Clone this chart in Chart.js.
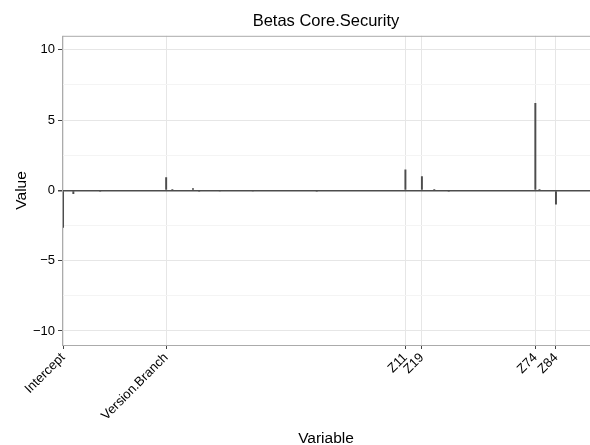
<!DOCTYPE html>
<html>
<head>
<meta charset="utf-8">
<script src="https://cdn.jsdelivr.net/npm/chart.js@4/dist/chart.umd.min.js"></script>
<style>
  html, body { margin: 0; padding: 0; background: #fff; }
  #wrap { width: 590px; height: 445px; }
</style>
</head>
<body>
<div id="wrap"><canvas id="betaChart"></canvas></div>
<script>
// variable order: Intercept, 155 other covariates (Version.Branch among them), then Z1..Z100
const otherCount = 156;
const zCount = 100;

// non-zero coefficients; every other variable is 0
const betaNames = ['Intercept', 'Var5', 'Var18', 'Version.Branch', 'Var53', 'Var63', 'Var66',
  'Var76', 'Var92', 'Var123', 'Z11', 'Z19', 'Z25', 'Z32', 'Z74', 'Z76', 'Z84'];
const betaValues = [-2.65, -0.25, -0.1, 0.94, 0.1, 0.15, -0.1,
  -0.08, -0.08, -0.1, 1.49, 1.01, 0.1, -0.1, 6.22, 0.1, -1.0];

// only these variables get a tick label and a vertical grid line
const tickLabels = ['Intercept', 'Version.Branch', 'Z11', 'Z19', 'Z74', 'Z84'];
const yTicks = [-10, -5, 0, 5, 10];
const yMinorTicks = [-7.5, -2.5, 2.5, 7.5];

const categories = ['Intercept'];
for (let i = 1; i < otherCount; i++) {
  categories.push(i === 50 ? 'Version.Branch' : 'Var' + i);
}
for (let i = 1; i <= zCount; i++) categories.push('Z' + i);

const values = categories.map(name => {
  const k = betaNames.indexOf(name);
  return k >= 0 ? betaValues[k] : 0;
});

const FONT = '"Liberation Sans", Arial, Helvetica, sans-serif';

const panelBorder = {
  id: 'panelBorder',
  afterDatasetsDraw(chart) {
    const { ctx, chartArea: a } = chart;
    ctx.save();
    ctx.strokeStyle = '#ababab';
    ctx.lineWidth = 1;
    ctx.strokeRect(a.left + 0.5, a.top + 0.5, a.right - a.left, a.bottom - a.top);
    ctx.restore();
  }
};

const ctx = document.getElementById('betaChart').getContext('2d');
new Chart(ctx, {
  type: 'bar',
  data: {
    labels: categories,
    datasets: [{
      label: 'Value',
      data: values,
      backgroundColor: '#4d4d4d',
      barPercentage: 0.95,
      categoryPercentage: 1.0
    }]
  },
  options: {
    responsive: true,
    maintainAspectRatio: false,
    animation: false,
    layout: { padding: 0 },
    plugins: {
      legend: { display: false },
      tooltip: { enabled: false },
      title: {
        display: true,
        text: 'Betas Core.Security',
        fullSize: false,
        color: '#000',
        font: { family: FONT, size: 16.5, weight: 'normal' },
        padding: { top: 12, bottom: 4 }
      }
    },
    scales: {
      x: {
        offset: true,
        grid: {
          offset: false,
          drawOnChartArea: true,
          color: c => tickLabels.includes(categories[c.index]) ? '#e6e6e6' : 'rgba(0,0,0,0)',
          tickColor: c => tickLabels.includes(categories[c.index]) ? '#444' : 'rgba(0,0,0,0)',
          tickLength: 4
        },
        border: { display: false },
        ticks: {
          autoSkip: false,
          minRotation: 45,
          maxRotation: 45,
          padding: 1,
          color: '#000',
          font: { family: FONT, size: 13 },
          callback: function (v, i) {
            return tickLabels.includes(categories[i]) ? categories[i] : '';
          }
        },
        title: {
          display: true,
          text: 'Variable',
          color: '#000',
          font: { family: FONT, size: 15.5 },
          padding: { top: 0, bottom: -3 }
        },
        afterFit: s => {
          s.height = 100;
          s.paddingLeft = 0;
          s.paddingRight = 0;
        }
      },
      y: {
        min: -11,
        max: 11,
        afterBuildTicks: s => {
          s.ticks = yTicks.concat(yMinorTicks).sort((a, b) => a - b).map(v => ({ value: v }));
        },
        grid: {
          color: c => c.tick.value === 0 ? '#4d4d4d'
            : (yTicks.includes(c.tick.value) ? '#e6e6e6' : '#f4f4f4'),
          lineWidth: c => c.tick.value === 0 ? 1.5 : 1,
          tickColor: c => yTicks.includes(c.tick.value) ? '#444' : 'rgba(0,0,0,0)',
          tickLength: 4
        },
        border: { display: false },
        ticks: {
          padding: 3,
          color: '#000',
          font: { family: FONT, size: 13 },
          callback: v => yTicks.includes(v) ? (v < 0 ? '\u2212' + Math.abs(v) : String(v)) : ''
        },
        title: {
          display: true,
          text: 'Value',
          color: '#000',
          font: { family: FONT, size: 15.5 },
          padding: { top: 12, bottom: 0 }
        },
        afterFit: s => {
          s.width = 62;
          s.paddingTop = 0;
          s.paddingBottom = 0;
        }
      }
    }
  },
  plugins: [panelBorder]
});
</script>
</body>
</html>
